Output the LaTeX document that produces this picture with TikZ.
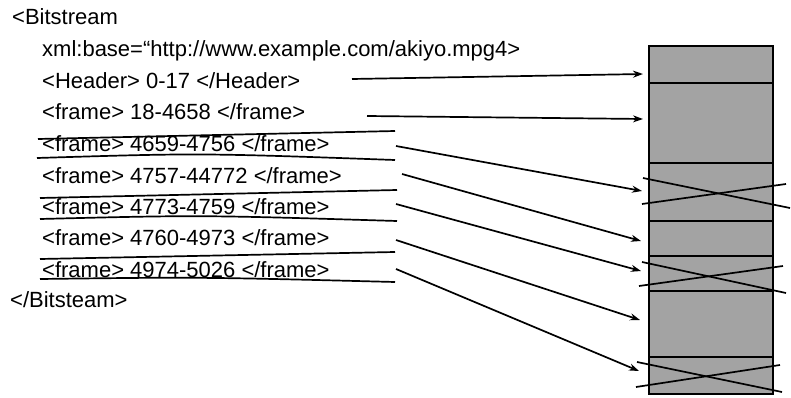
\documentclass[tikz,border=0pt]{standalone}
\usepackage{fontspec}
\setmainfont{Liberation Sans}
\usetikzlibrary{arrows.meta}
\begin{document}
\begin{tikzpicture}[x=1pt,y=-1pt,
  txt/.style={anchor=base west,inner sep=0pt,font=\fontsize{22}{25}\selectfont},
  strike/.style={line width=1.7pt},
  conn/.style={line width=1.7pt,-{Stealth[length=10pt,width=7pt]}},
  seg/.style={draw,line width=2.2pt,fill=gray!72,minimum width=124pt,inner sep=0pt,anchor=north},
  xline/.style={line width=1.7pt}]
\useasboundingbox (0,0) rectangle (791,398);
% text
\node[txt] (t0) at (12,25) {<Bitstream};
\node[txt] (t1) at (42,57) {xml:base=“http://www.example.com/akiyo.mpg4>};
\node[txt] (t2) at (42,89) {<Header> 0-17 </Header>};
\node[txt] (t3) at (42,120) {<frame> 18-4658 </frame>};
\node[txt] (t4) at (42,152) {<frame> 4659-4756 </frame>};
\node[txt] (t5) at (42,183) {<frame> 4757-44772 </frame>};
\node[txt] (t6) at (42,214) {<frame> 4773-4759 </frame>};
\node[txt] (t7) at (42,245) {<frame> 4760-4973 </frame>};
\node[txt] (t8) at (42,277) {<frame> 4974-5026 </frame>};
\node[txt] (t9) at (10,307) {</Bitsteam>};
% strike lines
\draw[strike] (38,139) -- (395,131);
\draw[strike] (37,158) .. controls (200,153) .. (395,160);
\draw[strike] (40,198) -- (397,190);
\draw[strike] (40,219) .. controls (200,215) .. (397,221);
\draw[strike] (40,259) -- (395,252);
\draw[strike] (40,279) .. controls (200,277) .. (395,282);
% bitstream segments
\node[seg,minimum height=37pt] (s1) at (711,45) {};
\node[seg,minimum height=80pt] (s2) at (711,82) {};
\node[seg,minimum height=58pt] (s3) at (711,162) {};
\node[seg,minimum height=35pt] (s4) at (711,220) {};
\node[seg,minimum height=35pt] (s5) at (711,255) {};
\node[seg,minimum height=66pt] (s6) at (711,290) {};
\node[seg,minimum height=37pt] (s7) at (711,356) {};
% crosses
\draw[xline] (643,178) -- (790,208);
\draw[xline] (642,204) -- (786,184);
\draw[xline] (642,262) -- (786,293);
\draw[xline] (639,286) -- (783,266);
\draw[xline] (637,362) -- (782,392);
\draw[xline] (636,387) -- (780,365);
% connector ends
\coordinate (a2) at (352,79);  \coordinate (b2) at (643,74);
\coordinate (a3) at (367,116); \coordinate (b3) at (643,119);
\coordinate (a4) at (396,146); \coordinate (b4) at (642,191);
\coordinate (a5) at (402,174); \coordinate (b5) at (641,241);
\coordinate (a6) at (396,204); \coordinate (b6) at (641,271);
\coordinate (a7) at (396,240); \coordinate (b7) at (640,320);
\coordinate (a8) at (396,269); \coordinate (b8) at (639,371);
\foreach \i in {2,...,8} {\draw[conn] (a\i) -- (b\i);}
\end{tikzpicture}
\end{document}
